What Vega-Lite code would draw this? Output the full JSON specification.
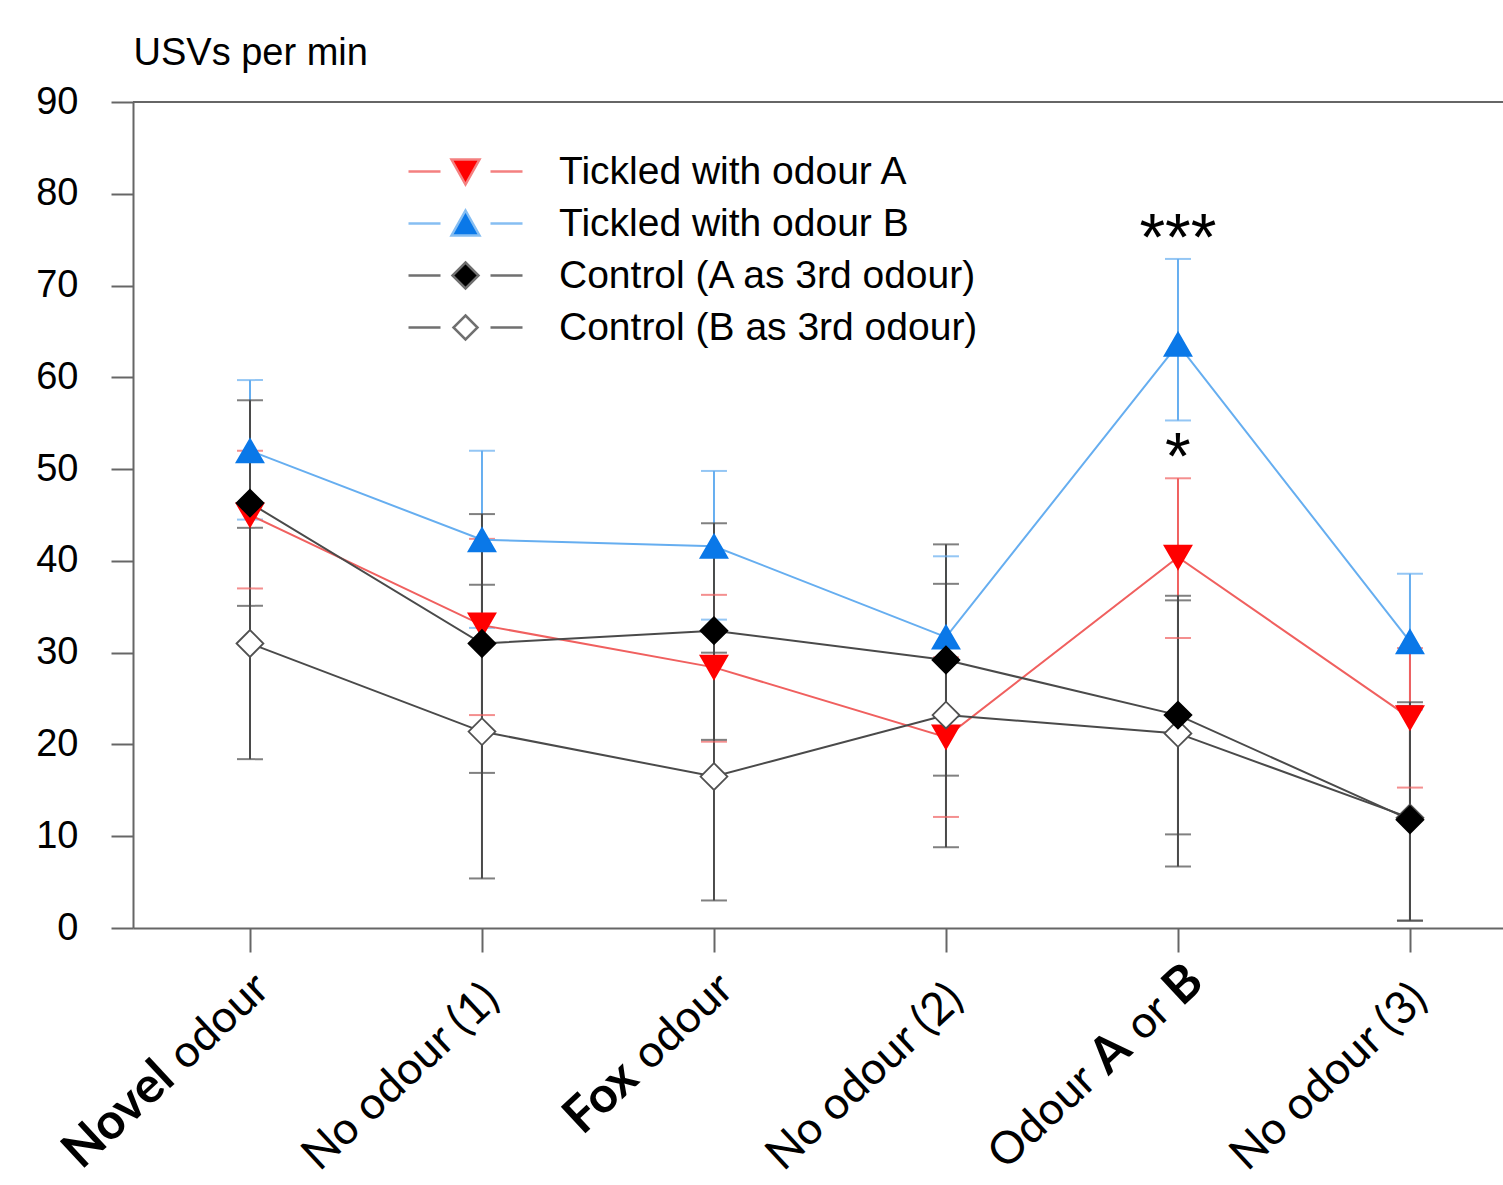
{
  "$schema": "https://vega.github.io/schema/vega-lite/v6.json",
  "width": 1370,
  "height": 826,
  "autosize": {"type": "none"},
  "padding": {"left": 133, "top": 102, "right": 0, "bottom": 257},
  "background": "white",
  "config": {
    "view": {"stroke": null},
    "font": "Liberation Sans",
    "axisY": {
      "labelFont": "Liberation Sans", "labelFontSize": 38, "labelColor": "black",
      "tickSize": 22, "tickWidth": 2, "tickColor": "#666", "domainColor": "#666", "domainWidth": 2,
      "labelPadding": 33, "grid": false,
      "titleAngle": 0, "titleAlign": "left", "titleX": 0, "titleY": -49, "titleBaseline": "middle",
      "titleFont": "Liberation Sans", "titleFontSize": 38, "titleFontWeight": "normal", "titleColor": "black"
    },
    "axisX": {
      "labels": false, "tickSize": 24, "tickWidth": 2, "tickColor": "#666",
      "domainColor": "#666", "domainWidth": 2, "grid": false
    },
    "legend": {
      "orient": "none", "legendX": 313, "legendY": 50, "title": null, "padding": 0,
      "symbolSize": 4, "symbolStrokeWidth": 2.5, "symbolOpacity": 1, "labelFont": "Liberation Sans", "labelFontSize": 39,
      "labelColor": "black", "labelOffset": 74, "rowPadding": 12, "labelLimit": 0
    }
  },
  "datasets": {
    "usv": [
      {"series": "Tickled with odour B", "cat": "Novel odour", "mean": 52.0, "lo": 44.5, "hi": 59.7},
      {"series": "Tickled with odour B", "cat": "No odour (1)", "mean": 42.3, "lo": 32.7, "hi": 52.0},
      {"series": "Tickled with odour B", "cat": "Fox odour", "mean": 41.6, "lo": 33.6, "hi": 49.8},
      {"series": "Tickled with odour B", "cat": "No odour (2)", "mean": 31.7, "lo": 23.0, "hi": 40.5},
      {"series": "Tickled with odour B", "cat": "Odour A or B", "mean": 63.6, "lo": 55.3, "hi": 72.9},
      {"series": "Tickled with odour B", "cat": "No odour (3)", "mean": 31.2, "lo": 23.8, "hi": 38.6},
      {"series": "Tickled with odour A", "cat": "Novel odour", "mean": 45.0, "lo": 37.0, "hi": 52.0},
      {"series": "Tickled with odour A", "cat": "No odour (1)", "mean": 33.0, "lo": 23.2, "hi": 42.4},
      {"series": "Tickled with odour A", "cat": "Fox odour", "mean": 28.4, "lo": 20.3, "hi": 36.3},
      {"series": "Tickled with odour A", "cat": "No odour (2)", "mean": 20.8, "lo": 12.1, "hi": 29.5},
      {"series": "Tickled with odour A", "cat": "Odour A or B", "mean": 40.4, "lo": 31.6, "hi": 49.0},
      {"series": "Tickled with odour A", "cat": "No odour (3)", "mean": 22.9, "lo": 15.3, "hi": 30.5},
      {"series": "Control (B as 3rd odour)", "cat": "Novel odour", "mean": 31.0, "lo": 18.4, "hi": 43.6},
      {"series": "Control (B as 3rd odour)", "cat": "No odour (1)", "mean": 21.4, "lo": 5.4, "hi": 37.4},
      {"series": "Control (B as 3rd odour)", "cat": "Fox odour", "mean": 16.5, "lo": 3.0, "hi": 30.0},
      {"series": "Control (B as 3rd odour)", "cat": "No odour (2)", "mean": 23.2, "lo": 8.8, "hi": 37.5},
      {"series": "Control (B as 3rd odour)", "cat": "Odour A or B", "mean": 21.2, "lo": 6.7, "hi": 35.7},
      {"series": "Control (B as 3rd odour)", "cat": "No odour (3)", "mean": 12.0, "lo": 0.8, "hi": 24.2},
      {"series": "Control (A as 3rd odour)", "cat": "Novel odour", "mean": 46.3, "lo": 35.1, "hi": 57.5},
      {"series": "Control (A as 3rd odour)", "cat": "No odour (1)", "mean": 31.0, "lo": 16.9, "hi": 45.1},
      {"series": "Control (A as 3rd odour)", "cat": "Fox odour", "mean": 32.4, "lo": 20.5, "hi": 44.1},
      {"series": "Control (A as 3rd odour)", "cat": "No odour (2)", "mean": 29.2, "lo": 16.6, "hi": 41.8},
      {"series": "Control (A as 3rd odour)", "cat": "Odour A or B", "mean": 23.2, "lo": 10.2, "hi": 36.2},
      {"series": "Control (A as 3rd odour)", "cat": "No odour (3)", "mean": 11.8, "lo": 0.8, "hi": 24.6}
    ]
  },
  "layer": [
    {
      "data": {"values": [{}]},
      "mark": {"type": "rule", "color": "#666", "strokeWidth": 2},
      "encoding": {"y": {"datum": 90, "type": "quantitative", "title": "USVs per min"}}
    },
    {
      "data": {"name": "usv"},
      "mark": {"type": "rule", "strokeWidth": 2},
      "encoding": {
        "x": {"field": "cat", "type": "nominal", "title": null,
              "scale": {"type": "point", "domain": ["Novel odour", "No odour (1)", "Fox odour", "No odour (2)", "Odour A or B", "No odour (3)"], "padding": 0.4526, "align": 0.557}},
        "y": {"field": "lo", "type": "quantitative", "title": "USVs per min",
              "scale": {"domain": [0, 90], "nice": false, "zero": true},
              "axis": {"values": [0, 10, 20, 30, 40, 50, 60, 70, 80, 90]}},
        "y2": {"field": "hi"},
        "color": {"field": "series", "type": "nominal", "legend": null,
                  "scale": {"domain": ["Tickled with odour A", "Tickled with odour B", "Control (A as 3rd odour)", "Control (B as 3rd odour)"],
                            "range": ["#F0605F", "#66AEF0", "#4A4A4A", "#4A4A4A"]}}
      }
    },
    {
      "data": {"name": "usv"},
      "mark": {"type": "tick", "size": 26, "thickness": 2},
      "encoding": {
        "x": {"field": "cat", "type": "nominal", "title": null},
        "y": {"field": "lo", "type": "quantitative", "title": "USVs per min"},
        "color": {"field": "series", "type": "nominal", "legend": null}
      }
    },
    {
      "data": {"name": "usv"},
      "mark": {"type": "tick", "size": 26, "thickness": 2},
      "encoding": {
        "x": {"field": "cat", "type": "nominal", "title": null},
        "y": {"field": "hi", "type": "quantitative", "title": "USVs per min"},
        "color": {"field": "series", "type": "nominal", "legend": null}
      }
    },
    {
      "data": {"name": "usv"},
      "mark": {"type": "line", "strokeWidth": 2},
      "encoding": {
        "x": {"field": "cat", "type": "nominal", "title": null},
        "y": {"field": "mean", "type": "quantitative", "title": "USVs per min"},
        "color": {"field": "series", "type": "nominal", "legend": null},
        "order": {"value": null}
      }
    },
    {
      "data": {"name": "usv"},
      "mark": {"type": "point", "filled": true, "size": 720, "strokeWidth": 1.8, "opacity": 1},
      "encoding": {
        "x": {"field": "cat", "type": "nominal", "title": null},
        "y": {"field": "mean", "type": "quantitative", "title": "USVs per min"},
        "shape": {"field": "series", "type": "nominal", "legend": null,
                  "scale": {"domain": ["Tickled with odour A", "Tickled with odour B", "Control (A as 3rd odour)", "Control (B as 3rd odour)"],
                            "range": ["triangle-down", "triangle-up", "diamond", "diamond"]}},
        "fill": {"field": "series", "type": "nominal", "legend": null,
                 "scale": {"domain": ["Tickled with odour A", "Tickled with odour B", "Control (A as 3rd odour)", "Control (B as 3rd odour)"],
                           "range": ["#FF0000", "#0A78E8", "#000000", "#FFFFFF"]}},
        "stroke": {"field": "series", "type": "nominal", "legend": null,
                   "scale": {"domain": ["Tickled with odour A", "Tickled with odour B", "Control (A as 3rd odour)", "Control (B as 3rd odour)"],
                             "range": ["#FF0000", "#0A78E8", "#000000", "#505050"]}}
      }
    },
    {
      "data": {"values": [
        {"series": "Tickled with odour A"}, {"series": "Tickled with odour B"},
        {"series": "Control (A as 3rd odour)"}, {"series": "Control (B as 3rd odour)"}
      ]},
      "transform": [{"filter": "false"}],
      "mark": {"type": "point", "filled": true, "opacity": 1},
      "encoding": {
        "shape": {"field": "series", "type": "nominal",
                  "scale": {"domain": ["Tickled with odour A", "Tickled with odour B", "Control (A as 3rd odour)", "Control (B as 3rd odour)"],
                            "range": ["M-57,0L-25,0M25,0L57,0M-14,-12L14,-12L0,13Z",
                                      "M-57,0L-25,0M25,0L57,0M-14,12L14,12L0,-13Z",
                                      "M-57,0L-25,0M25,0L57,0M0,-13L13,0L0,13L-13,0Z",
                                      "M-57,0L-25,0M25,0L57,0M0,-12L12,0L0,12L-12,0Z"]}},
        "fill": {"field": "series", "type": "nominal",
                 "scale": {"domain": ["Tickled with odour A", "Tickled with odour B", "Control (A as 3rd odour)", "Control (B as 3rd odour)"],
                           "range": ["#FF0000", "#0A78E8", "#000000", "#FFFFFF"]}},
        "stroke": {"field": "series", "type": "nominal",
                   "scale": {"domain": ["Tickled with odour A", "Tickled with odour B", "Control (A as 3rd odour)", "Control (B as 3rd odour)"],
                             "range": ["#F48080", "#86BEF2", "#707070", "#707070"]}}
      }
    },
    {
      "data": {"values": [
        {"cat": "Odour A or B", "top": 72.9, "sig": "***"},
        {"cat": "Odour A or B", "top": 49.0, "sig": "*"}
      ]},
      "mark": {"type": "text", "font": "Liberation Sans", "fontSize": 66, "baseline": "alphabetic", "align": "center", "yOffset": 1, "color": "black"},
      "encoding": {
        "x": {"field": "cat", "type": "nominal", "title": null},
        "y": {"field": "top", "type": "quantitative", "title": "USVs per min"},
        "text": {"field": "sig"}
      }
    },
    {
      "data": {"values": [
        {"cat": "No odour (1)", "t": "No odour (1)"},
        {"cat": "No odour (2)", "t": "No odour (2)"},
        {"cat": "No odour (3)", "t": "No odour (3)"}
      ]},
      "mark": {"type": "text", "font": "Lato", "fontSize": 45, "angle": 317, "align": "right", "baseline": "middle", "xOffset": 10, "yOffset": 64, "color": "black"},
      "encoding": {
        "x": {"field": "cat", "type": "nominal", "title": null},
        "y": {"datum": 0, "type": "quantitative", "title": "USVs per min"},
        "text": {"field": "t"}
      }
    },
    {
      "data": {"values": [
        {"cat": "Novel odour", "t": "Novel"},
        {"cat": "Fox odour", "t": "Fox"}
      ]},
      "mark": {"type": "text", "font": "Lato", "fontSize": 50, "fontWeight": "bold", "angle": 317, "align": "right", "baseline": "middle", "xOffset": 14, "yOffset": 52, "dx": -133, "color": "black"},
      "encoding": {
        "x": {"field": "cat", "type": "nominal", "title": null},
        "y": {"datum": 0, "type": "quantitative", "title": "USVs per min"},
        "text": {"field": "t"}
      }
    },
    {
      "data": {"values": [
        {"cat": "Novel odour", "t": "odour"},
        {"cat": "Fox odour", "t": "odour"}
      ]},
      "mark": {"type": "text", "font": "Lato", "fontSize": 45, "angle": 317, "align": "left", "baseline": "middle", "xOffset": 14, "yOffset": 52, "dx": -120, "color": "black"},
      "encoding": {
        "x": {"field": "cat", "type": "nominal", "title": null},
        "y": {"datum": 0, "type": "quantitative", "title": "USVs per min"},
        "text": {"field": "t"}
      }
    },
    {
      "data": {"values": [{"cat": "Odour A or B", "t": "B"}]},
      "mark": {"type": "text", "font": "Lato", "fontSize": 50, "fontWeight": "bold", "angle": 317, "align": "right", "baseline": "middle", "xOffset": 18, "yOffset": 46, "dx": 0, "color": "black"},
      "encoding": {
        "x": {"field": "cat", "type": "nominal", "title": null},
        "y": {"datum": 0, "type": "quantitative", "title": "USVs per min"},
        "text": {"field": "t"}
      }
    },
    {
      "data": {"values": [{"cat": "Odour A or B", "t": "or"}]},
      "mark": {"type": "text", "font": "Lato", "fontSize": 45, "angle": 317, "align": "right", "baseline": "middle", "xOffset": 18, "yOffset": 46, "dx": -44, "color": "black"},
      "encoding": {
        "x": {"field": "cat", "type": "nominal", "title": null},
        "y": {"datum": 0, "type": "quantitative", "title": "USVs per min"},
        "text": {"field": "t"}
      }
    },
    {
      "data": {"values": [{"cat": "Odour A or B", "t": "A"}]},
      "mark": {"type": "text", "font": "Lato", "fontSize": 50, "fontWeight": "bold", "angle": 317, "align": "right", "baseline": "middle", "xOffset": 18, "yOffset": 46, "dx": -99, "color": "black"},
      "encoding": {
        "x": {"field": "cat", "type": "nominal", "title": null},
        "y": {"datum": 0, "type": "quantitative", "title": "USVs per min"},
        "text": {"field": "t"}
      }
    },
    {
      "data": {"values": [{"cat": "Odour A or B", "t": "Odour"}]},
      "mark": {"type": "text", "font": "Lato", "fontSize": 45, "angle": 317, "align": "right", "baseline": "middle", "xOffset": 18, "yOffset": 46, "dx": -146, "color": "black"},
      "encoding": {
        "x": {"field": "cat", "type": "nominal", "title": null},
        "y": {"datum": 0, "type": "quantitative", "title": "USVs per min"},
        "text": {"field": "t"}
      }
    }
  ],
  "resolve": {
    "scale": {"shape": "independent", "fill": "independent", "stroke": "independent"},
    "legend": {"shape": "independent", "fill": "independent", "stroke": "independent"}
  }
}
